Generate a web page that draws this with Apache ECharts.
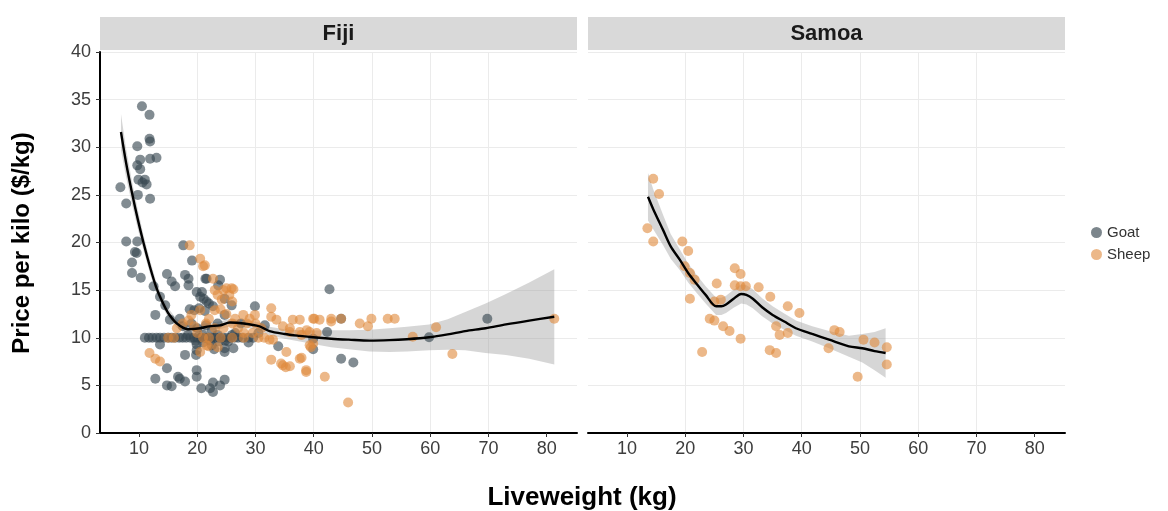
<!DOCTYPE html>
<html>
<head>
<meta charset="utf-8">
<script src="https://cdn.jsdelivr.net/npm/echarts@6/dist/echarts.min.js"></script>
<style>
  html, body { margin: 0; padding: 0; background: #ffffff; }
  #chart { width: 1168px; height: 511px; }
</style>
</head>
<body>
<div id="chart"></div>
<script>
// Facet names and axis ticks
const panels = ['Fiji', 'Samoa'];
const xTicks = [10, 20, 30, 40, 50, 60, 70, 80];
const yTicks = [0, 5, 10, 15, 20, 25, 30, 35, 40];
const seriesNames = ['Goat', 'Sheep'];

// Fiji goats: [liveweight kg, price $/kg]
const fijiGoat = [
  [10.5,34.3],[11.8,33.4],[11.8,30.9],[11.9,30.6],[9.7,30.1],[10.2,28.7],[11.9,28.8],[13.0,28.9],
  [9.7,28.1],[10.2,27.7],[9.9,26.6],[11.0,26.6],[11.3,26.1],[10.6,26.3],[6.8,25.8],[9.8,25.0],
  [11.9,24.6],[7.8,24.1],[7.8,20.1],[9.7,20.1],[9.3,19.0],[9.6,18.9],[8.8,17.9],[8.8,16.8],
  [10.3,16.3],[12.5,15.4],[14.8,16.7],[15.6,15.9],[16.2,15.4],[13.6,14.3],[14.5,13.4],[12.8,12.4],
  [15.3,11.9],[17.9,16.6],[18.5,16.2],[17.6,19.7],[19.1,18.1],[21.4,16.2],[19.9,14.8],[20.5,14.3],
  [21.6,13.8],[22.7,13.3],[18.5,15.5],[17.0,12.0],[18.7,13.0],[19.5,12.9],[20.3,13.1],[21.3,12.8],
  [21.6,16.2],[23.6,15.5],[23.9,16.1],[24.7,14.1],[25.9,13.4],[24.7,12.4],[29.9,13.3],[31.6,11.3],
  [20.8,14.8],[21.1,14.1],[22.0,13.6],
  [17.5,11.2],[19.0,11.5],[20.0,11.0],[21.5,11.3],[22.5,10.8],[23.5,11.5],[27.5,11.5],[26.5,10.5],
  [11.0,10.0],[11.7,10.0],[12.3,10.0],[13.0,10.0],[13.6,10.0],[14.3,10.0],[15.0,10.0],[15.6,10.0],
  [16.2,10.0],[16.9,10.0],[17.5,10.0],[18.1,10.0],[18.8,10.0],[19.4,10.0],[20.0,10.0],[20.6,10.0],
  [21.3,10.0],[21.9,10.0],[22.5,10.0],[23.2,10.0],[23.8,10.0],[24.4,10.0],[25.1,10.0],[25.7,10.0],
  [26.4,10.0],[27.0,10.0],[27.7,10.0],[28.8,10.0],[29.6,10.0],
  [18.4,10.3],[19.7,9.7],[21.0,10.3],[22.2,9.7],[23.5,10.3],[24.8,9.7],[26.0,10.3],[30.5,10.5],
  [19.9,9.3],[21.0,9.5],[22.5,9.2],[23.7,9.6],[25.3,9.6],[24.7,8.9],[26.2,8.9],[17.9,8.2],
  [19.8,8.2],[19.9,8.7],[24.7,8.5],[22.9,8.8],[13.6,9.3],[28.8,9.5],
  [14.8,6.8],[12.8,5.7],[14.8,5.0],[15.6,4.9],[17.0,5.7],[17.9,5.4],[19.9,6.6],[19.9,5.9],
  [20.7,4.7],[22.2,4.7],[22.7,5.3],[22.7,4.3],[23.9,5.0],[24.7,5.6],[16.7,5.9],
  [33.9,9.1],[42.7,15.1],[42.3,10.6],[44.7,7.8],[46.8,7.4],[39.9,8.8],[39.9,9.9],[44.7,12.0],
  [59.8,10.05],[69.8,12.0]
];

// Fiji sheep
const fijiSheep = [
  [18.7,19.7],[20.5,18.3],[21.0,17.5],[21.3,17.6],[22.7,16.2],[25.0,15.2],[25.9,15.2],[26.2,15.1],
  [24.5,15.0],[23.0,15.0],[23.0,12.9],[20.5,12.9],[19.0,12.4],[27.9,12.4],[29.9,12.4],[32.7,13.1],
  [32.7,12.2],[33.6,11.9],[36.4,11.9],[37.6,11.9],[39.9,12.0],[40.1,12.0],[41.0,11.9],[43.0,12.0],
  [43.0,11.7],[44.7,12.0],[47.9,11.5],[49.3,11.2],[49.9,12.0],[52.7,12.0],[53.9,12.0],[57.0,10.1],
  [61.0,11.1],[63.8,8.3],[81.3,12.0],[34.7,11.2],[35.9,10.6],[38.8,10.8],[39.3,10.6],[40.5,10.5],
  [35.9,11.0],[37.6,10.6],[37.9,10.3],[32.4,9.8],[33.0,9.8],[39.5,9.0],[39.3,9.2],[39.9,9.4],
  [35.3,8.5],[32.7,7.7],[34.4,7.3],[35.2,6.9],[37.6,7.8],[38.7,6.6],[34.7,7.1],[35.9,7.0],
  [37.9,7.9],[38.7,6.4],[41.9,5.9],[45.9,3.2],[11.8,8.4],[12.8,7.8],[13.6,7.5],[21.9,9.1],
  [21.6,9.2],
  [23.5,14.5],[24.2,14.0],[25.5,14.5],[26.0,13.8],[24.0,13.0],[25.0,12.5],[26.5,12.0],[22.0,12.0],
  [21.5,11.5],[23.0,11.0],[24.5,11.0],[26.0,11.5],[27.0,11.0],[28.5,11.5],[29.0,12.0],[30.0,11.5],
  [31.0,11.0],[28.0,10.5],[30.5,10.0],[31.5,10.0],[29.5,10.5],[18.5,11.8],[17.5,11.5],[16.5,11.0],
  [19.5,11.2],[20.0,10.5],[15.0,10.0],[16.0,10.0],[21.0,10.0],[22.0,10.0],[24.0,10.0],[26.0,10.0],
  [28.0,10.0],[23.5,9.0],[20.5,8.5]
];

// Samoa sheep
const samoaSheep = [
  [14.5,26.7],[15.5,25.1],[13.5,21.5],[14.5,20.1],[19.5,20.1],[20.5,19.1],[19.9,17.5],[20.8,16.8],
  [21.6,16.1],[20.8,14.1],[25.4,15.7],[25.0,13.8],[26.1,14.0],[24.2,12.0],[25.0,11.8],[26.5,11.2],
  [27.6,10.7],[22.9,8.5],[28.5,17.3],[29.5,16.7],[28.5,15.5],[29.5,15.4],[30.4,15.4],[32.6,15.3],
  [34.6,14.3],[29.5,9.9],[35.6,11.2],[36.2,10.3],[37.6,10.5],[34.5,8.7],[35.6,8.4],[37.6,13.3],
  [39.6,12.6],[45.6,10.8],[46.5,10.6],[44.6,8.9],[49.6,5.9],[50.6,9.8],[52.5,9.5],[54.6,9.0],
  [54.6,7.2]
];

// Smoothed trend with confidence band, Fiji
const fijiSmoothX = [6.9,7.8,8.8,9.8,10.8,11.9,12.9,13.9,15.0,16.5,18.4,20.5,22.0,23.9,25.6,28.0,30.7,32.4,35.0,37.6,39.9,43.0,46.0,49.6,53.0,56.0,59.8,63.0,66.0,69.5,73.0,77.0,81.3];
const fijiFit   = [31.6,28.3,25.2,22.4,19.9,17.4,15.4,13.9,12.6,11.5,10.9,11.0,11.2,11.3,11.6,11.5,11.2,10.7,10.4,10.2,10.05,9.9,9.8,9.7,9.75,9.85,10.05,10.35,10.7,11.0,11.4,11.8,12.2];
const fijiUpper = [33.5,29.8,26.4,23.4,20.7,18.1,16.0,14.4,13.1,11.95,11.3,11.4,11.6,11.7,12.0,11.9,11.6,11.15,10.9,10.8,10.75,10.8,10.8,10.85,11.0,11.15,11.4,11.95,12.7,13.6,14.6,15.8,17.2];
const fijiLower = [29.7,26.8,24.0,21.4,19.1,16.7,14.8,13.4,12.1,11.05,10.5,10.6,10.8,10.9,11.2,11.1,10.8,10.25,9.9,9.6,9.35,9.0,8.8,8.55,8.5,8.55,8.7,8.75,8.7,8.4,8.2,7.8,7.2];

// Smoothed trend with confidence band, Samoa
const samoaSmoothX = [13.6,14.5,16.2,17.5,19.05,20.5,21.9,23.5,25.3,26.2,27.0,28.3,29.6,30.5,31.6,33.2,35.0,37.0,39.0,41.8,44.7,48.1,50.4,52.5,54.4];
const samoaFit   = [24.8,23.5,21.3,19.6,18.2,16.8,15.7,14.5,13.3,13.3,13.5,14.1,14.6,14.5,14.1,13.2,12.4,11.7,11.0,10.4,9.8,9.1,8.9,8.6,8.4];
const samoaUpper = [27.3,25.6,22.9,20.9,19.3,17.8,16.65,15.4,14.2,14.2,14.4,15.05,15.6,15.5,15.1,14.15,13.3,12.55,11.8,11.2,10.7,10.2,10.4,10.6,11.0];
const samoaLower = [22.3,21.4,19.7,18.3,17.1,15.8,14.75,13.6,12.4,12.4,12.6,13.15,13.6,13.5,13.1,12.25,11.5,10.85,10.2,9.6,8.9,8.0,7.4,6.6,5.8];

const FONT = '"Liberation Sans", Arial, Helvetica, sans-serif';
const GOAT_COLOR = 'rgb(54,69,79)';
const SHEEP_COLOR = 'rgb(223,137,58)';
const PANEL_TOP = 52, PANEL_H = 381, PANEL_W = 477;
const PANEL_LEFT = [100, 588];

const chart = echarts.init(document.getElementById('chart'), null, { renderer: 'canvas' });

function zip(xs, ys) { return xs.map((x, i) => [x, ys[i]]); }

// Confidence ribbon drawn as a polygon through the axis scales
function ribbon(xs, lo, hi) {
  return function (params, api) {
    const pts = [];
    for (let i = 0; i < xs.length; i++) pts.push(api.coord([xs[i], hi[i]]));
    for (let i = xs.length - 1; i >= 0; i--) pts.push(api.coord([xs[i], lo[i]]));
    return {
      type: 'polygon',
      shape: { points: pts },
      style: { fill: 'rgba(153,153,153,0.4)', stroke: null }
    };
  };
}

const grids = PANEL_LEFT.map(l => ({ left: l, top: PANEL_TOP, width: PANEL_W, height: PANEL_H, containLabel: false }));

const xAxes = panels.map((p, i) => ({
  type: 'value', gridIndex: i, min: 3.3, max: 85.2, minInterval: 10, maxInterval: 10,
  axisLine: { show: true, onZero: false, lineStyle: { color: '#000', width: 2 } },
  axisTick: { show: true, length: 4, customValues: xTicks, lineStyle: { color: '#333', width: 1 } },
  axisLabel: { customValues: xTicks, fontFamily: FONT, fontSize: 18, color: '#3d3d3d', margin: 7 },
  splitLine: { show: true, showMinLine: false, showMaxLine: false, lineStyle: { color: '#ebebeb', width: 1 } }
}));

const yAxes = panels.map((p, i) => ({
  type: 'value', gridIndex: i, min: 0, max: 40, interval: 5,
  axisLine: { show: i === 0, lineStyle: { color: '#000', width: 2 } },
  axisTick: { show: i === 0, length: 4, lineStyle: { color: '#333', width: 1 } },
  axisLabel: { show: i === 0, fontFamily: FONT, fontSize: 18, color: '#3d3d3d', margin: 9 },
  splitLine: { show: true, lineStyle: { color: '#ebebeb', width: 1 } }
}));

const pointStyle = (color, op) => ({ color: color, opacity: op, borderWidth: 0 });

const option = {
  animation: false,
  backgroundColor: '#ffffff',
  grid: grids,
  xAxis: xAxes,
  yAxis: yAxes,
  legend: {
    orient: 'vertical', left: 1086, top: 220, itemGap: 7,
    icon: 'circle', itemWidth: 11, itemHeight: 11,
    textStyle: { fontFamily: FONT, fontSize: 15, color: '#333' },
    data: [
      { name: seriesNames[0], itemStyle: { color: GOAT_COLOR, opacity: 0.65 } },
      { name: seriesNames[1], itemStyle: { color: SHEEP_COLOR, opacity: 0.6 } }
    ]
  },
  series: [
    { name: seriesNames[0], type: 'scatter', xAxisIndex: 0, yAxisIndex: 0, data: fijiGoat,
      symbolSize: 10, itemStyle: pointStyle(GOAT_COLOR, 0.62) },
    { name: seriesNames[1], type: 'scatter', xAxisIndex: 0, yAxisIndex: 0, data: fijiSheep,
      symbolSize: 10, itemStyle: pointStyle(SHEEP_COLOR, 0.6) },
    { name: seriesNames[1], type: 'scatter', xAxisIndex: 1, yAxisIndex: 1, data: samoaSheep,
      symbolSize: 10, itemStyle: pointStyle(SHEEP_COLOR, 0.6) },
    { name: 'ribbonFiji', type: 'custom', xAxisIndex: 0, yAxisIndex: 0, data: [[fijiSmoothX[0], fijiFit[0]]],
      renderItem: ribbon(fijiSmoothX, fijiLower, fijiUpper), silent: true },
    { name: 'ribbonSamoa', type: 'custom', xAxisIndex: 1, yAxisIndex: 1, data: [[samoaSmoothX[0], samoaFit[0]]],
      renderItem: ribbon(samoaSmoothX, samoaLower, samoaUpper), silent: true },
    { name: 'fitFiji', type: 'line', xAxisIndex: 0, yAxisIndex: 0, data: zip(fijiSmoothX, fijiFit),
      showSymbol: false, smooth: 0.3, lineStyle: { color: '#000', width: 2.4 }, silent: true },
    { name: 'fitSamoa', type: 'line', xAxisIndex: 1, yAxisIndex: 1, data: zip(samoaSmoothX, samoaFit),
      showSymbol: false, smooth: 0.3, lineStyle: { color: '#000', width: 2.4 }, silent: true }
  ],
  graphic: [
    // facet strips
    ...panels.map((p, i) => ({
      type: 'rect', left: PANEL_LEFT[i], top: 17, silent: true,
      shape: { width: PANEL_W, height: 33 }, style: { fill: '#d9d9d9' }
    })),
    ...panels.map((p, i) => ({
      type: 'text', x: PANEL_LEFT[i] + PANEL_W / 2, y: 34, silent: true,
      style: { text: p, fontFamily: FONT, fontWeight: 'bold', fontSize: 22, fill: '#1a1a1a',
               align: 'center', verticalAlign: 'middle' }
    })),
    // axis titles
    {
      type: 'text', x: 582, y: 498, silent: true,
      style: { text: 'Liveweight (kg)', fontFamily: FONT, fontWeight: 'bold', fontSize: 26, fill: '#000',
               align: 'center', verticalAlign: 'middle' }
    },
    {
      type: 'text', x: 22, y: 243, rotation: Math.PI / 2, silent: true,
      style: { text: 'Price per kilo ($/kg)', fontFamily: FONT, fontWeight: 'bold', fontSize: 24, fill: '#000',
               align: 'center', verticalAlign: 'middle' }
    }
  ]
};

chart.setOption(option);
</script>
</body>
</html>
